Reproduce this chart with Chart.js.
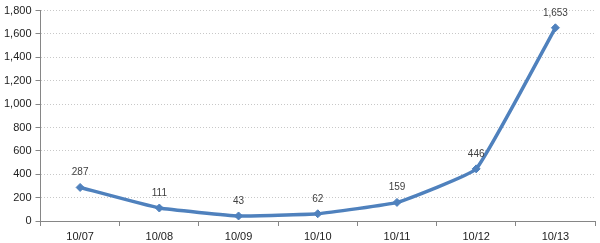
<!DOCTYPE html>
<html>
<head>
<meta charset="utf-8">
<script src="https://cdn.jsdelivr.net/npm/chart.js@4/dist/chart.umd.min.js"></script>
<style>
  html, body { margin: 0; padding: 0; background: #fff; }
  #wrap { width: 600px; height: 243px; position: relative; }
</style>
</head>
<body>
<div id="wrap"><canvas id="lineChart"></canvas></div>
<script>
// chart data
const categories = ['10/07', '10/08', '10/09', '10/10', '10/11', '10/12', '10/13'];
const values = [287, 111, 43, 62, 159, 446, 1653];
const yTicks = [0, 200, 400, 600, 800, 1000, 1200, 1400, 1600, 1800];

// draws the value over each point
const valueLabels = {
    id: 'valueLabels',
    afterDatasetsDraw(chart) {
        const ctx = chart.ctx;
        const meta = chart.getDatasetMeta(0);
        ctx.save();
        ctx.font = '10px "Liberation Sans", Arial, sans-serif';
        ctx.fillStyle = '#404040';
        ctx.textAlign = 'center';
        ctx.textBaseline = 'bottom';
        meta.data.forEach((pt, i) => {
            ctx.fillText(values[i].toLocaleString('en-US'), pt.x, pt.y - 10);
        });
        ctx.restore();
    }
};

const ctx = document.getElementById('lineChart').getContext('2d');

const lineChart = new Chart(ctx, {
    type: 'line',
    data: {
        labels: categories,
        datasets: [{
            data: values,
            borderColor: '#4F81BD',
            backgroundColor: '#4F81BD',
            borderWidth: 3.5,
            tension: 0.1,
            pointStyle: 'rectRot',
            pointRadius: 4,
            pointBorderWidth: 1,
            pointBorderColor: '#4F81BD'
        }]
    },
    options: {
        responsive: true,
        maintainAspectRatio: false,
        animation: false,
        layout: { padding: { top: 5, right: 5, left: 0, bottom: 0 } },
        plugins: {
            legend: { display: false },
            tooltip: { enabled: false }
        },
        scales: {
            x: {
                offset: true,
                afterFit(scale) {
                    scale.height = 22;
                },
                grid: {
                    display: true,
                    drawOnChartArea: false,
                    drawTicks: true,
                    tickLength: 5,
                    offset: true,
                    color: '#868686'
                },
                border: { color: '#868686' },
                ticks: {
                    color: '#222',
                    font: { family: '"Liberation Sans", Arial, sans-serif', size: 11 },
                    padding: 4,
                    maxRotation: 0
                }
            },
            y: {
                min: 0,
                max: 1800,
                afterBuildTicks(axis) {
                    axis.ticks = yTicks.map(v => ({ value: v }));
                },
                grid: {
                    color: '#c8c8c8',
                    tickLength: 5,
                    tickColor: '#868686'
                },
                border: { color: '#868686', dash: [1, 2] },
                ticks: {
                    color: '#222',
                    font: { family: '"Liberation Sans", Arial, sans-serif', size: 11 },
                    padding: 4,
                    callback: v => v.toLocaleString('en-US')
                }
            }
        }
    },
    plugins: [valueLabels]
});
</script>
</body>
</html>
